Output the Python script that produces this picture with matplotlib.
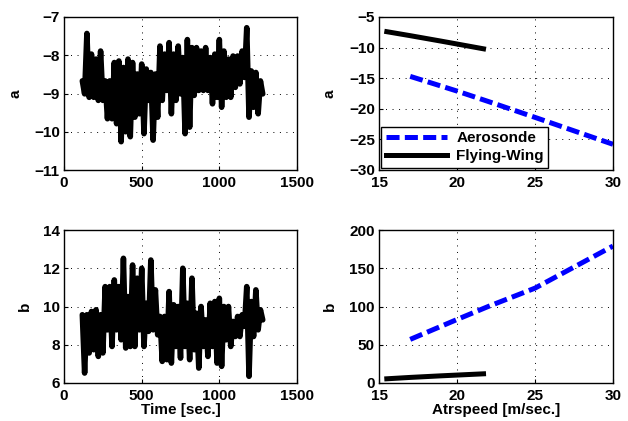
import numpy as np
import matplotlib
matplotlib.use("Agg")
import matplotlib.pyplot as plt

plt.rcParams['font.family'] = ['Liberation Sans', 'DejaVu Sans']
plt.rcParams['font.weight'] = 'bold'
plt.rcParams['axes.labelweight'] = 'bold'
plt.rcParams['lines.scale_dashes'] = False

# ---- data ----
t_start = 118.0
t_step = 14.7
a_time = [-8.67, -9.01, -7.43, -9.10, -7.97, -9.10, -8.10, -9.18, -7.89, -9.18,
          -8.67, -9.66, -8.67, -9.66, -8.19, -9.79, -8.15, -10.26, -8.32, -10.0,
          -8.10, -10.13, -8.19, -9.62, -8.49, -9.53, -8.23, -10.05, -8.36, -9.18,
          -8.45, -10.22, -8.49, -9.62, -7.76, -9.18, -7.97, -8.92, -7.67, -9.53,
          -7.97, -9.18, -7.76, -9.01, -8.06, -10.05, -7.59, -9.88, -7.80, -9.05,
          -7.80, -8.92, -7.89, -8.92, -7.80, -8.92, -8.06, -9.27, -7.97, -9.10,
          -7.59, -9.36, -7.89, -9.10, -8.10, -9.10, -8.02, -8.84, -8.02, -8.75,
          -7.89, -8.58, -7.28, -9.62, -8.41, -9.36, -8.45, -9.53, -8.67, -9.01]
b_time = [9.57, 6.52, 9.57, 7.57, 9.74, 7.74, 9.83, 7.39, 9.57, 7.57,
          11.04, 8.78, 11.04, 7.91, 11.39, 8.78, 11.04, 8.26, 12.52, 7.83,
          10.52, 7.91, 12.17, 7.91, 11.48, 8.78, 12.0, 7.91, 10.17, 8.70,
          12.43, 8.78, 10.87, 8.52, 9.48, 7.13, 9.48, 7.22, 10.78, 7.04,
          10.09, 7.91, 10.0, 7.30, 12.0, 7.91, 10.17, 7.22, 11.48, 7.74,
          9.65, 6.78, 10.0, 7.91, 9.30, 7.39, 10.17, 7.91, 10.26, 7.04,
          10.43, 6.87, 10.0, 8.26, 10.0, 7.91, 9.22, 8.43, 9.48, 8.43,
          9.57, 8.96, 11.04, 6.35, 10.26, 8.43, 10.87, 8.78, 9.83, 9.30]
time = t_start + t_step * np.arange(len(a_time))

aero_speed = [17.0, 20.0, 22.0, 25.0, 30.0]
aero_a = [-14.7, -17.1, -18.8, -21.4, -25.8]
aero_b = [57.0, 83.0, 100.0, 124.0, 179.0]

fw_speed = [15.5, 17.0, 19.0, 21.7]
fw_a = [-7.4, -8.05, -8.95, -10.2]
fw_b = [5.5, 7.3, 9.4, 12.0]

legend_labels = ['Aerosonde', 'Flying-Wing']

# ---- figure ----
W, H = 628, 421
fig = plt.figure(figsize=(W / 100, H / 100), dpi=100)

def box(l, r, t, b):
    return [l / W, 1 - b / H, (r - l) / W, (b - t) / H]

ax1 = fig.add_axes(box(64, 297, 17, 170))
ax2 = fig.add_axes(box(379, 613, 17, 170))
ax3 = fig.add_axes(box(64, 297, 230, 383))
ax4 = fig.add_axes(box(379, 613, 230, 383))

lw = 3.6
dash = (9.4, 3.8)

ax1.plot(time, a_time, color='black', lw=4.0, solid_joinstyle='round', solid_capstyle='round')
ax3.plot(time, b_time, color='black', lw=4.0, solid_joinstyle='round', solid_capstyle='round')

l1, = ax2.plot(aero_speed, aero_a, color='blue', lw=lw, linestyle=(0, dash))
l2, = ax2.plot(fw_speed, fw_a, color='black', lw=lw)
ax4.plot(aero_speed, aero_b, color='blue', lw=lw, linestyle=(0, dash))
ax4.plot(fw_speed, fw_b, color='black', lw=lw)

for ax in (ax1, ax3):
    ax.set_xlim(0, 1500)
    ax.set_xticks([0, 500, 1000, 1500])
ax1.set_ylim(-11, -7)
ax1.set_yticks([-11, -10, -9, -8, -7])
ax3.set_ylim(6, 14)
ax3.set_yticks([6, 8, 10, 12, 14])

for ax in (ax2, ax4):
    ax.set_xlim(15, 30)
    ax.set_xticks([15, 20, 25, 30])
ax2.set_ylim(-30, -5)
ax2.set_yticks([-30, -25, -20, -15, -10, -5])
ax4.set_ylim(0, 200)
ax4.set_yticks([0, 50, 100, 150, 200])

for ax in (ax1, ax2, ax3, ax4):
    ax.grid(True, color='black', linestyle=(0, (0.7, 4.0)), linewidth=0.7)
    ax.tick_params(direction='in', length=3, width=0.8, labelsize=11)
    ax.tick_params(axis='x', pad=4.5)
    ax.tick_params(axis='y', pad=3)
    for s in ax.spines.values():
        s.set_linewidth(1.0)
    for lab in ax.get_xticklabels() + ax.get_yticklabels():
        lab.set_fontweight('bold')

ax1.set_ylabel('a', fontsize=11, labelpad=8)
ax2.set_ylabel('a', fontsize=11, labelpad=9)
ax3.set_ylabel('b', fontsize=11, labelpad=8)
ax4.set_ylabel('b', fontsize=11, labelpad=9)
ax3.set_xlabel('Time [sec.]', fontsize=11, labelpad=0)
ax4.set_xlabel('Atrspeed [m/sec.]', fontsize=11, labelpad=0)

leg = ax2.legend([l1, l2], legend_labels, loc='lower left', bbox_to_anchor=(0.0, 0.0),
                 borderaxespad=0.15, fancybox=False, framealpha=1, edgecolor='black',
                 prop={'weight': 'bold', 'size': 11}, handlelength=4.0,
                 handletextpad=0.6, borderpad=0.3, labelspacing=0.25)
leg.get_frame().set_linewidth(1.0)

fig.savefig('out.png', dpi=100)
